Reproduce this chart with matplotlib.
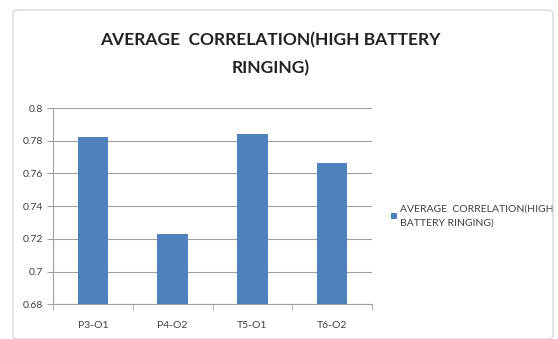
import numpy as np
import matplotlib.pyplot as plt
from matplotlib.patches import FancyBboxPatch

plt.rcParams['font.family'] = ['Lato', 'DejaVu Sans']

channels = ["P3-O1", "P4-O2", "T5-O1", "T6-O2"]
avg_corr = [0.7824, 0.7232, 0.7841, 0.7665]
y_ticks = [0.68, 0.7, 0.72, 0.74, 0.76, 0.78, 0.8]
y_labels = ["0.68", "0.7", "0.72", "0.74", "0.76", "0.78", "0.8"]

fig = plt.figure(figsize=(5.58, 3.39), dpi=100)

# chart frame
frame = FancyBboxPatch((13 / 558, 0.0), 540 / 558, 1 - 10 / 339,
                       boxstyle="round,pad=0,rounding_size=0.01",
                       transform=fig.transFigure, fill=False,
                       edgecolor="#d0d0d0", linewidth=0.8)
fig.patches.append(frame)

ax = fig.add_axes([53 / 558, 34.7 / 339, 319 / 558, 196.3 / 339])
x = np.arange(len(channels))
ax.bar(x, avg_corr, width=0.38, color="#4F81BD", zorder=3,
       label="AVERAGE  CORRELATION(HIGH\nBATTERY RINGING)")

ax.set_ylim(0.68, 0.8)
ax.set_xlim(-0.5, len(channels) - 0.5)
ax.set_yticks(y_ticks)
ax.set_yticklabels(y_labels, fontsize=7.5, color="#404040")
ax.set_xticks(x)
ax.set_xticklabels(channels, fontsize=7.5, color="#404040")
ax.set_xticks(np.arange(-0.5, len(channels), 1.0), minor=True)
ax.tick_params(axis="x", which="major", length=0, pad=12)
ax.tick_params(axis="x", which="minor", length=4, color="#a0a0a0")
ax.tick_params(axis="y", length=4, color="#a0a0a0", pad=3)
ax.grid(axis="y", color="#a0a0a0", linewidth=0.8, zorder=0)
for side in ["top", "right"]:
    ax.spines[side].set_visible(False)
for side in ["left", "bottom"]:
    ax.spines[side].set_color("#a0a0a0")
    ax.spines[side].set_linewidth(0.8)

fig.text(270 / 558, 1 - 40 / 339, "AVERAGE  CORRELATION(HIGH BATTERY",
         ha="center", va="center", fontsize=12.5, fontweight="bold", color="#222222")
fig.text(271 / 558, 1 - 68 / 339, "RINGING)",
         ha="center", va="center", fontsize=12.5, fontweight="bold", color="#222222")

leg = ax.legend(loc="center left", bbox_to_anchor=(386 / 558, 1 - 216 / 339),
                bbox_transform=fig.transFigure, frameon=False, fontsize=7.5,
                handlelength=0.55, handleheight=0.55, handletextpad=0.3,
                borderpad=0, labelcolor="#404040")
for t in leg.get_texts():
    t.set_linespacing(1.6)

fig.savefig("out.png", dpi=100)
